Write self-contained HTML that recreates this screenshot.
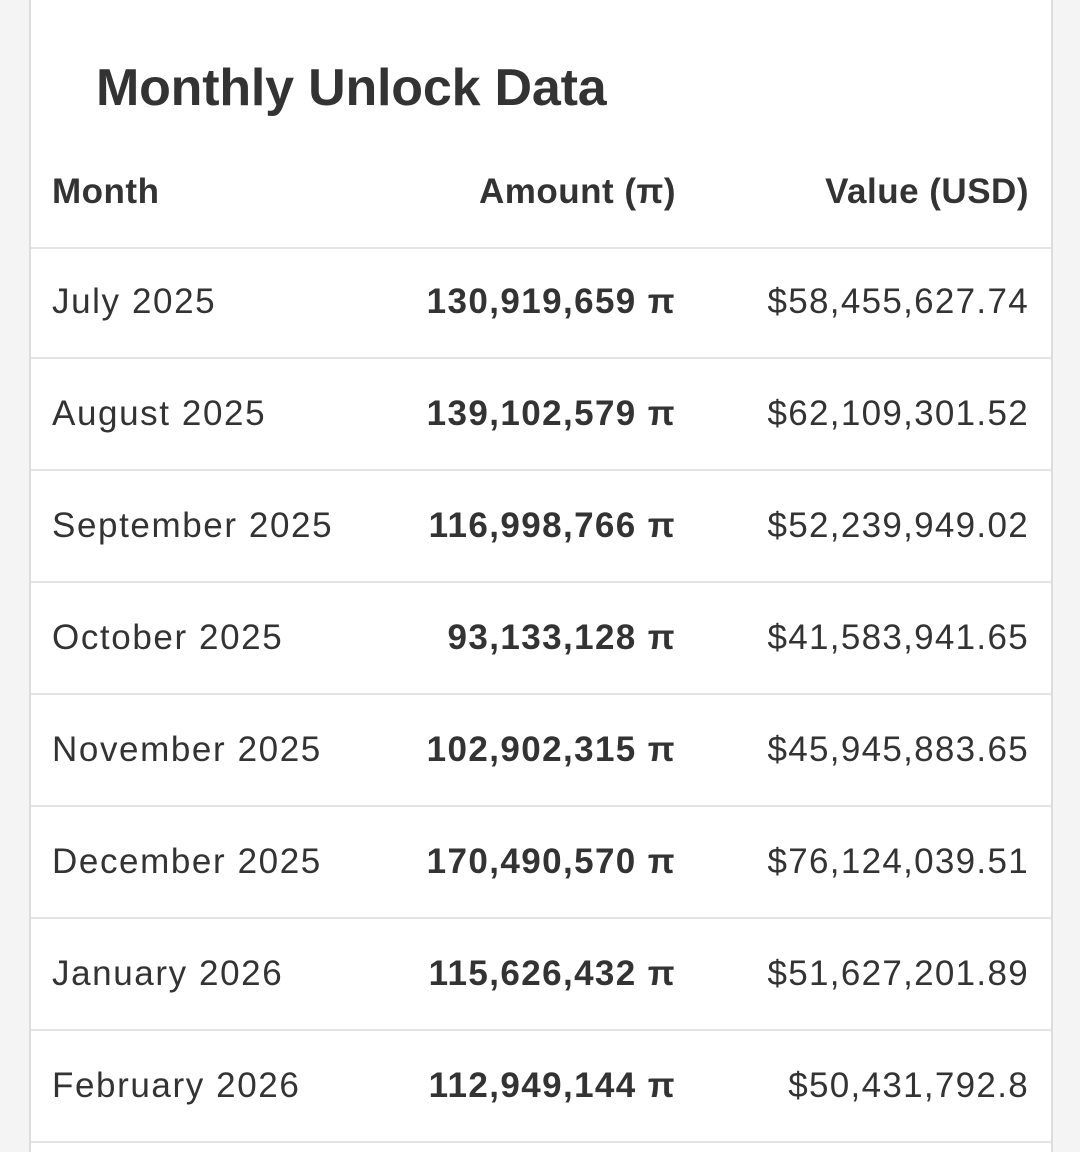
<!DOCTYPE html>
<html><head><meta charset="utf-8"><style>
html,body{margin:0;padding:0;background:#f4f4f4;width:1080px;height:1152px;overflow:hidden;font-family:"Liberation Sans",sans-serif;position:relative;}
.card{position:absolute;left:29px;top:-10px;width:1020px;height:1170px;background:#fff;border:2px solid #dcdcdc;border-radius:6px;}
.title{position:absolute;left:96px;top:58px;font-size:52px;font-weight:bold;color:#333;letter-spacing:-0.2px;}
.row{position:absolute;left:31px;width:1020px;height:112px;border-bottom:2px solid #e4e4e4;box-sizing:border-box;}
.row div{position:absolute;top:0;line-height:110px;font-size:35px;color:#333;white-space:nowrap;}
.m{left:21px;letter-spacing:1.6px;}
.a{right:375px;font-weight:bold;letter-spacing:1.4px;}
.v{right:22px;color:#717880;letter-spacing:1.3px;}
.hdr div{font-weight:bold;letter-spacing:0.5px;}
.hdr .v{color:#333;}
</style></head><body>
<div class="card"></div>
<div class="title">Monthly Unlock Data</div>
<div class="row hdr" style="top:137px"><div class="m">Month</div><div class="a">Amount (π)</div><div class="v">Value (USD)</div></div>
<div class="row" style="top:247px"><div class="m">July 2025</div><div class="a">130,919,659 π</div><div class="v">$58,455,627.74</div></div>
<div class="row" style="top:359px"><div class="m">August 2025</div><div class="a">139,102,579 π</div><div class="v">$62,109,301.52</div></div>
<div class="row" style="top:471px"><div class="m">September 2025</div><div class="a">116,998,766 π</div><div class="v">$52,239,949.02</div></div>
<div class="row" style="top:583px"><div class="m">October 2025</div><div class="a">93,133,128 π</div><div class="v">$41,583,941.65</div></div>
<div class="row" style="top:695px"><div class="m">November 2025</div><div class="a">102,902,315 π</div><div class="v">$45,945,883.65</div></div>
<div class="row" style="top:807px"><div class="m">December 2025</div><div class="a">170,490,570 π</div><div class="v">$76,124,039.51</div></div>
<div class="row" style="top:919px"><div class="m">January 2026</div><div class="a">115,626,432 π</div><div class="v">$51,627,201.89</div></div>
<div class="row" style="top:1031px"><div class="m">February 2026</div><div class="a">112,949,144 π</div><div class="v">$50,431,792.8</div></div>
</body></html>
